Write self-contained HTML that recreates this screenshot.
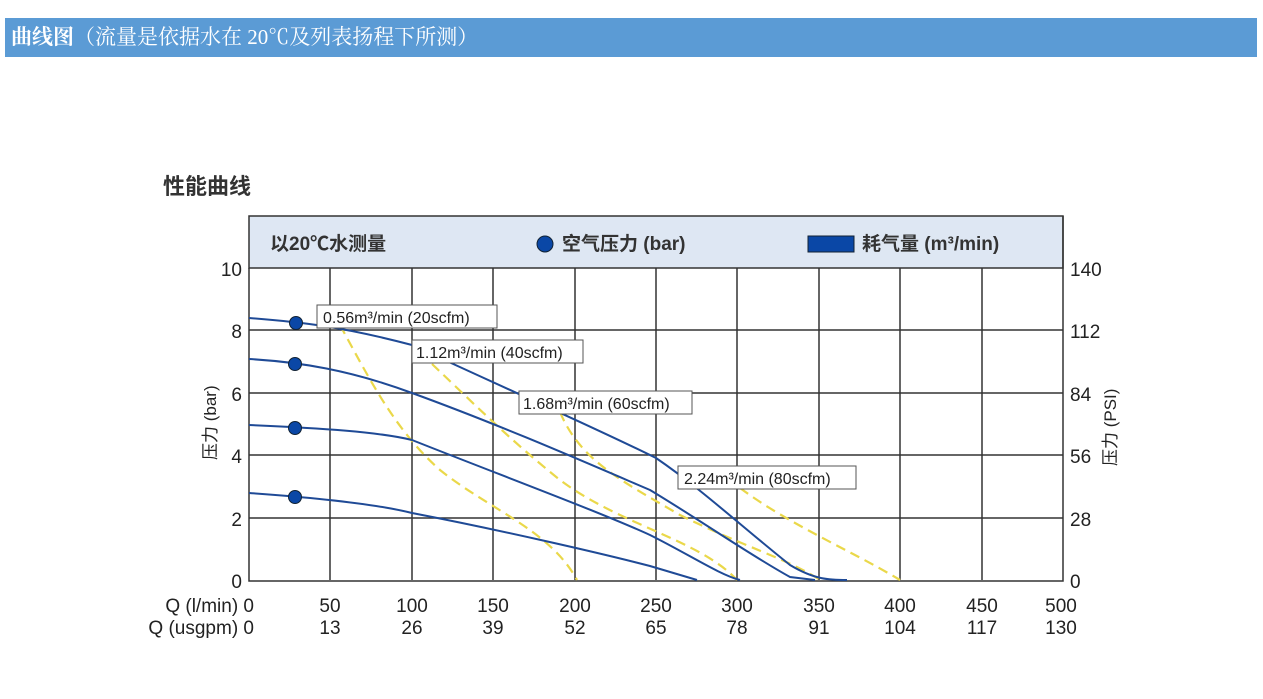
<!DOCTYPE html>
<html><head><meta charset="utf-8"><style>
body{margin:0;width:1263px;height:699px;background:#fff;overflow:hidden;font-family:"Liberation Sans","Noto Sans CJK SC",sans-serif}
.bar{position:absolute;left:5px;top:18px;width:1252px;height:39px;background:#5B9BD5;color:#fff;font-family:"Liberation Serif","Noto Serif CJK SC",serif;font-size:21px;line-height:39px;padding-left:6px;box-sizing:border-box}
</style></head><body>
<div class="bar"><b>曲线图</b>（流量是依据水在 20℃及列表扬程下所测）</div>
<svg width="1263" height="699" style="position:absolute;left:0;top:0" font-family="Liberation Sans,Noto Sans CJK SC,sans-serif" fill="#222">
<text x="163" y="194" font-size="22" font-weight="bold" fill="#333">性能曲线</text>
<rect x="249" y="216" width="814" height="52" fill="#DEE7F3" stroke="#333" stroke-width="1.5"/>
<text x="270" y="250" font-size="19" font-weight="bold" fill="#333">以20℃水测量</text>
<circle cx="545" cy="244" r="8" fill="#0A47A6" stroke="#123"/>
<text x="562" y="250" font-size="19" font-weight="bold" fill="#333">空气压力 (bar)</text>
<rect x="808" y="236" width="46" height="16" fill="#0A47A6" stroke="#123"/>
<text x="862" y="250" font-size="19" font-weight="bold" fill="#333">耗气量 (m³/min)</text>
<g stroke="#333" stroke-width="1.5" fill="none">
<path d="M330 268V580M412 268V580M493 268V580M575 268V580M656 268V580M737 268V580M819 268V580M900 268V580M982 268V580"/>
<path d="M249 330H1063M249 393H1063M249 455H1063M249 518H1063"/>
<path d="M249 268V581H1063V216"/>
</g>
<g font-size="19" text-anchor="end">
<text x="242" y="276">10</text><text x="242" y="338">8</text><text x="242" y="401">6</text><text x="242" y="463">4</text><text x="242" y="526">2</text><text x="242" y="588">0</text>
</g>
<g font-size="19">
<text x="1070" y="276">140</text><text x="1070" y="338">112</text><text x="1070" y="401">84</text><text x="1070" y="463">56</text><text x="1070" y="526">28</text><text x="1070" y="588">0</text>
</g>
<text transform="translate(216,460) rotate(-90)" font-size="17">压力 (bar)</text>
<text transform="translate(1116,466) rotate(-90)" font-size="17">压力 (PSI)</text>
<g font-size="19" text-anchor="middle">
<text x="330" y="612">50</text><text x="412" y="612">100</text><text x="493" y="612">150</text><text x="575" y="612">200</text><text x="656" y="612">250</text><text x="737" y="612">300</text><text x="819" y="612">350</text><text x="900" y="612">400</text><text x="982" y="612">450</text><text x="1061" y="612">500</text>
<text x="330" y="634">13</text><text x="412" y="634">26</text><text x="493" y="634">39</text><text x="575" y="634">52</text><text x="656" y="634">65</text><text x="737" y="634">78</text><text x="819" y="634">91</text><text x="900" y="634">104</text><text x="982" y="634">117</text><text x="1061" y="634">130</text>
</g>
<text x="254" y="612" font-size="19" text-anchor="end">Q (l/min) 0</text>
<text x="254" y="634" font-size="19" text-anchor="end">Q (usgpm) 0</text>
<g stroke="#EAD84A" stroke-width="2.2" stroke-dasharray="10,6" fill="none">
<path d="M340 325C370 380 395 430 440 470C490 510 550 530 577 580"/>
<path d="M432 364C470 400 510 440 560 480C620 525 700 540 737 580"/>
<path d="M560 412C580 460 620 480 680 515C740 545 790 560 820 580"/>
<path d="M740 488C790 525 850 550 900 580"/>
</g>
<g stroke="#1F4A96" stroke-width="2" fill="none">
<path d="M249 318C300 322 340 326 412 345C520 395 600 430 656 458C700 488 740 525 790 565C815 580 830 580 847 580"/>
<path d="M249 359C300 362 350 370 412 393C500 425 580 460 650 490C700 520 750 555 790 577L815 580"/>
<path d="M249 425C320 428 380 432 412 440C500 475 600 512 650 535C690 555 720 575 740 580"/>
<path d="M249 493C320 498 380 505 412 513C500 530 600 553 650 566L697 580"/>
</g>
<g fill="#0A47A6" stroke="#123"><circle cx="296" cy="323" r="6.5"/><circle cx="295" cy="364" r="6.5"/><circle cx="295" cy="428" r="6.5"/><circle cx="295" cy="497" r="6.5"/></g>
<g font-size="16">
<rect x="317" y="305" width="180" height="23" fill="#fff" stroke="#555"/><text x="323" y="323">0.56m³/min (20scfm)</text>
<rect x="412" y="340" width="171" height="23" fill="#fff" stroke="#555"/><text x="416" y="358">1.12m³/min (40scfm)</text>
<rect x="519" y="391" width="173" height="23" fill="#fff" stroke="#555"/><text x="523" y="409">1.68m³/min (60scfm)</text>
<rect x="678" y="466" width="178" height="23" fill="#fff" stroke="#555"/><text x="684" y="484">2.24m³/min (80scfm)</text>
</g>
</svg>
</body></html>
